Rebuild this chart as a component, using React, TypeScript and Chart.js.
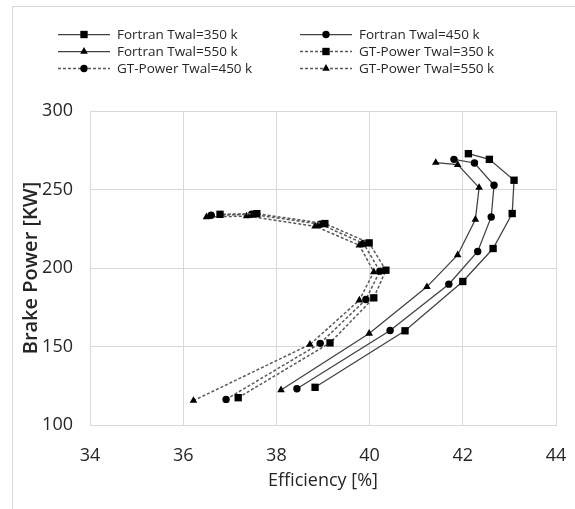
import React, { useEffect, useRef } from "react";
import { Chart, registerables } from "chart.js";

Chart.register(...registerables);

// Efficiency [%] (x) and Brake Power [KW] (y), listed from the lowest power point upward
const fortran350Eff = [38.83, 40.76, 42.0, 42.65, 43.06, 43.1, 42.57, 42.12];
const fortran350Power = [124, 160, 191.4, 212.4, 234.7, 255.9, 269.2, 272.8];
const fortran450Eff = [38.44, 40.44, 41.7, 42.32, 42.61, 42.67, 42.25, 41.81];
const fortran450Power = [123.1, 160.2, 189.7, 210.5, 232.5, 252.7, 266.9, 269.2];
const fortran550Eff = [38.1, 39.99, 41.23, 41.89, 42.27, 42.35, 41.89, 41.42];
const fortran550Power = [122.3, 158.3, 188.0, 208.3, 230.9, 251.2, 265.8, 267.1];
const gt350Eff = [37.18, 39.15, 40.09, 40.35, 39.99, 39.04, 37.58, 36.79];
const gt350Power = [117.4, 152.3, 181, 198.6, 216, 228.3, 234.6, 234.2];
const gt450Eff = [36.92, 38.94, 39.92, 40.22, 39.87, 38.94, 37.47, 36.6];
const gt450Power = [116.3, 152, 179.9, 198, 215.6, 227.9, 234.2, 233.6];
const gt550Eff = [36.22, 38.72, 39.78, 40.09, 39.78, 38.83, 37.36, 36.5];
const gt550Power = [115.5, 151.3, 179.5, 197.5, 214.5, 226.6, 233.1, 232.5];

const seriesLabels = [
  "Fortran Twal=350 k",
  "Fortran Twal=450 k",
  "Fortran Twal=550 k",
  "GT-Power Twal=350 k",
  "GT-Power Twal=450 k",
  "GT-Power Twal=550 k",
];

const xTicks = [34, 36, 38, 40, 42, 44];
const yTicks = [100, 150, 200, 250, 300];

const FONT = "'Open Sans', sans-serif";
const TEXT = "#262626";

const pts = (xs: number[], ys: number[]) => xs.map((x, i) => ({ x, y: ys[i] }));

function drawMarker(ctx: CanvasRenderingContext2D, style: string, x: number, y: number, r: number) {
  ctx.beginPath();
  if (style === "rect") {
    const s = Math.SQRT1_2 * r;
    ctx.rect(x - s, y - s, 2 * s, 2 * s);
  } else if (style === "triangle") {
    let a = 0;
    ctx.moveTo(x + Math.sin(a) * r, y - Math.cos(a) * r);
    a += (2 * Math.PI) / 3;
    ctx.lineTo(x + Math.sin(a) * r, y - Math.cos(a) * r);
    a += (2 * Math.PI) / 3;
    ctx.lineTo(x + Math.sin(a) * r, y - Math.cos(a) * r);
    ctx.closePath();
  } else {
    ctx.arc(x, y, r, 0, Math.PI * 2);
  }
  ctx.fill();
}

const legendPlugin = {
  id: "customLegend",
  afterDraw(chart: any) {
    const ctx: CanvasRenderingContext2D = chart.ctx;
    ctx.save();
    // outer frame
    ctx.strokeStyle = "#d9d9d9";
    ctx.lineWidth = 1;
    ctx.strokeRect(12.5, 6.5, 700, 700);
    const colX = [58, 300];
    const rowY0 = 34;
    const rowH = 17;
    chart.data.datasets.forEach((ds: any, i: number) => {
      const col = i % 2;
      const row = Math.floor(i / 2);
      const x0 = colX[col];
      const y = rowY0 + row * rowH;
      ctx.strokeStyle = ds.borderColor;
      ctx.lineWidth = ds.borderWidth;
      ctx.setLineDash(ds.borderDash || []);
      ctx.beginPath();
      ctx.moveTo(x0, y + 0.5);
      ctx.lineTo(x0 + 52, y + 0.5);
      ctx.stroke();
      ctx.setLineDash([]);
      ctx.fillStyle = "#000";
      drawMarker(ctx, ds.pointStyle, x0 + 26, y + 0.5, ds.pointRadius);
      ctx.fillStyle = TEXT;
      ctx.font = `13.5px ${FONT}`;
      ctx.textBaseline = "middle";
      ctx.textAlign = "left";
      ctx.fillText(ds.label, x0 + 59, y + 1);
    });
    ctx.restore();
  },
};

export default function App() {
  const ref = useRef<HTMLCanvasElement>(null);
  useEffect(() => {
    if (!ref.current) return;
    const mk = (i: number, xs: number[], ys: number[], style: string, r: number, dashed: boolean) => ({
      label: seriesLabels[i],
      data: pts(xs, ys),
      showLine: true,
      borderColor: dashed ? "#595959" : "#404040",
      borderWidth: dashed ? 1.5 : 1.25,
      borderDash: dashed ? [3, 2] : [],
      pointStyle: style,
      pointRadius: r,
      pointBackgroundColor: "#000",
      pointBorderColor: "#000",
      pointBorderWidth: 0,
      tension: 0,
    });
    const chart = new Chart(ref.current, {
      type: "scatter",
      data: {
        datasets: [
          mk(0, fortran350Eff, fortran350Power, "rect", 5.2, false),
          mk(1, fortran450Eff, fortran450Power, "circle", 3.7, false),
          mk(2, fortran550Eff, fortran550Power, "triangle", 4.4, false),
          mk(3, gt350Eff, gt350Power, "rect", 5.2, true),
          mk(4, gt450Eff, gt450Power, "circle", 3.7, true),
          mk(5, gt550Eff, gt550Power, "triangle", 4.4, true),
        ] as any,
      },
      options: {
        animation: false,
        responsive: true,
        maintainAspectRatio: false,
        layout: { padding: { top: 111, right: 19, bottom: 0, left: 0 } },
        plugins: { legend: { display: false }, tooltip: { enabled: false } },
        scales: {
          x: {
            type: "linear",
            min: xTicks[0],
            max: xTicks[xTicks.length - 1],
            afterBuildTicks: (s: any) => {
              s.ticks = xTicks.map((v) => ({ value: v }));
            },
            afterFit: (s: any) => {
              s.height = 84;
              s.paddingLeft = 0;
              s.paddingRight = 0;
            },
            grid: { color: "#d9d9d9", drawTicks: false },
            border: { color: "#d9d9d9" },
            ticks: { font: { family: FONT, size: 18 }, color: TEXT, padding: 20 },
            title: {
              display: true,
              text: "Efficiency [%]",
              font: { family: FONT, size: 18 },
              color: TEXT,
              padding: { top: 0, bottom: 17 },
            },
          },
          y: {
            type: "linear",
            min: yTicks[0],
            max: yTicks[yTicks.length - 1],
            afterBuildTicks: (s: any) => {
              s.ticks = yTicks.map((v) => ({ value: v }));
            },
            afterFit: (s: any) => {
              s.width = 90;
              s.paddingTop = 0;
              s.paddingBottom = 0;
            },
            grid: { color: "#d9d9d9", drawTicks: false },
            border: { color: "#d9d9d9" },
            ticks: { font: { family: FONT, size: 18 }, color: TEXT, padding: 17 },
            title: {
              display: true,
              text: "Brake Power [KW]",
              font: { family: FONT, size: 20, weight: "600" },
              color: TEXT,
              padding: { top: 19, bottom: 0 },
            },
          },
        },
      },
      plugins: [legendPlugin],
    });
    return () => chart.destroy();
  }, []);
  return (
    <div style={{ position: "fixed", left: 0, top: 0, width: 575, height: 509 }}>
      <canvas ref={ref} />
    </div>
  );
}
